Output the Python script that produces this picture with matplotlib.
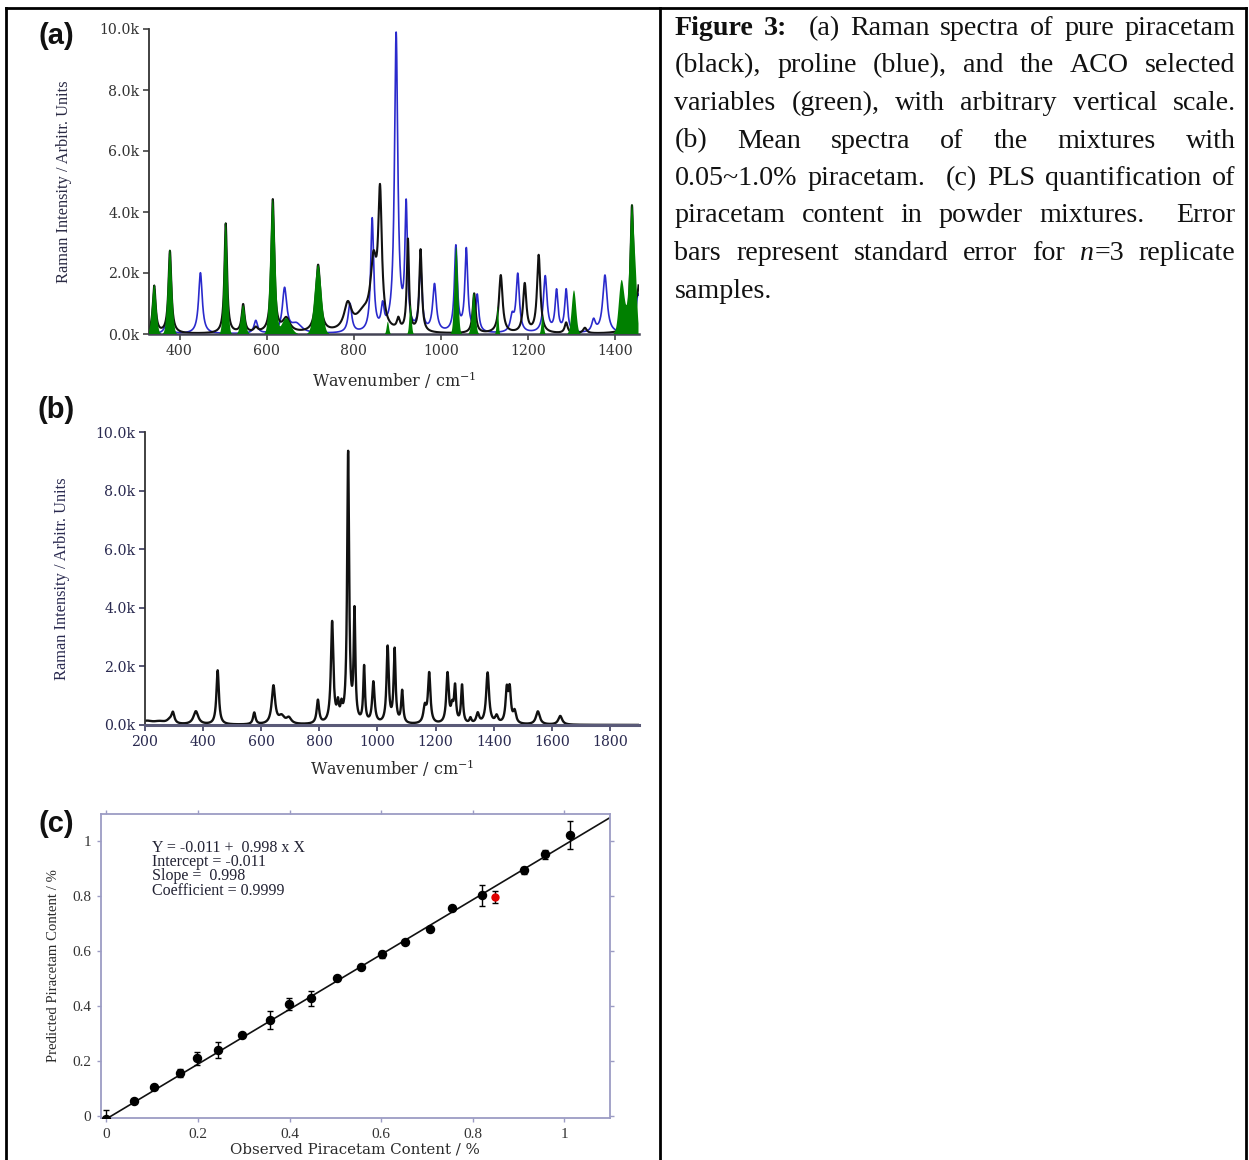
import re
import numpy as np
import matplotlib
matplotlib.use("Agg")
import matplotlib.pyplot as plt
from matplotlib.lines import Line2D
from matplotlib.transforms import IdentityTransform
from matplotlib.ticker import FixedLocator, FuncFormatter

# ---------------- data ----------------
# Panel (a): piracetam (black) peaks: centre / height / half-width
pir_center = [342, 378, 506, 546, 575, 614, 645, 718, 786, 822, 845, 860, 902, 924, 953,
              1076, 1137, 1192, 1224, 1287, 1330, 1438, 1458]
pir_height = [1550, 2700, 3600, 920, 150, 4350, 450, 2200, 850, 550, 2000, 4300, 350, 3000, 2700,
              1300, 1900, 1600, 2550, 350, 180, 4000, 2000]
pir_width = [4, 4, 3.5, 4, 5, 4, 10, 6, 10, 22, 8, 5, 4, 3, 3.5,
             4, 5, 4.5, 4.5, 4, 5, 4, 7]

# Panel (a): proline (blue) peaks
pro_center = [372, 448, 575, 641, 668, 791, 842, 866, 897, 920, 953, 985, 1034, 1058, 1083,
              1163, 1176, 1239, 1265, 1287, 1350, 1376, 1452]
pro_height = [450, 2000, 420, 1450, 300, 950, 3700, 750, 9750, 4000, 2100, 1550, 2800, 2700, 1200,
              500, 1900, 1850, 1350, 1400, 400, 1900, 1300]
pro_width = [6, 5, 5, 6, 15, 5, 4, 4, 4.5, 3.5, 4, 5, 4, 4, 4,
             5, 4.5, 5, 4, 4, 5, 6, 6]

# Panel (a): ACO selected variables (green)
aco_center = [342, 378, 506, 546, 614, 645, 718, 878, 930, 1035, 1075, 1130, 1233, 1305,
              1414, 1426, 1438, 1447]
aco_height = [1620, 2780, 3670, 950, 4420, 520, 2270, 400, 950, 2850, 1350, 900, 600, 1430,
              1700, 500, 4150, 1300]
aco_width = [5, 5, 4.3, 5, 5.8, 10, 8, 2.5, 2.5, 4, 4, 2, 2.5, 5,
             6, 6, 5, 3.5]

# Panel (b): mean spectrum of mixtures
mix_center = [205, 250, 285, 296, 375, 450, 576, 642, 670, 695, 795, 844, 864, 876, 899, 921,
              954, 986, 1035, 1059, 1085, 1163, 1178, 1241, 1257, 1267, 1291, 1320, 1345, 1379,
              1410, 1445, 1455, 1472, 1552, 1629]
mix_height = [120, 90, 120, 350, 450, 1850, 400, 1300, 250, 200, 800, 3450, 550, 450, 9200, 3700,
              1900, 1400, 2600, 2500, 1100, 550, 1700, 1700, 500, 1200, 1300, 180, 350, 1750,
              250, 1100, 1100, 400, 450, 300]
mix_width = [25, 25, 12, 6, 10, 5, 5, 7, 12, 10, 5, 5, 4, 4, 4, 3.5,
             3.5, 5, 4.5, 4, 4, 6, 5, 5, 5, 4, 4, 4, 6, 6,
             6, 5, 5, 6, 8, 8]

# Panel (c): PLS quantification
observed = [0.0, 0.06, 0.104, 0.161, 0.197, 0.243, 0.296, 0.358, 0.398, 0.446, 0.503, 0.557,
            0.601, 0.652, 0.706, 0.754, 0.820, 0.913, 0.957, 1.013]
predicted = [-0.01, 0.055, 0.106, 0.155, 0.21, 0.24, 0.294, 0.349, 0.409, 0.428, 0.501, 0.541,
             0.588, 0.634, 0.681, 0.758, 0.803, 0.895, 0.953, 1.023]
pred_err = [0.03, 0.004, 0.006, 0.015, 0.024, 0.028, 0.005, 0.034, 0.022, 0.027, 0.006, 0.004,
            0.014, 0.005, 0.005, 0.007, 0.04, 0.012, 0.016, 0.05]
outlier_obs = [0.848]
outlier_pred = [0.796]
outlier_err = [0.022]
fit_intercept = -0.011
fit_slope = 0.998
fit_text = ["Y = -0.011 +  0.998 x X", "Intercept = -0.011", "Slope =  0.998",
            "Coefficient = 0.9999"]

caption_lines = [
    "{b}Figure {b}3:  (a) Raman spectra of pure piracetam",
    "(black), proline (blue), and the ACO selected",
    "variables (green), with arbitrary vertical scale.",
    "(b) Mean spectra of the mixtures with",
    "0.05~1.0% piracetam.  (c) PLS quantification of",
    "piracetam content in powder mixtures.  Error",
    "bars represent standard error for {i}n{r}=3 replicate",
    "samples.",
]

# ---------------- helpers ----------------
W, H = 1249, 1160
fig = plt.figure(figsize=(W / 100, H / 100), dpi=100)
SERIF = ["Liberation Serif", "DejaVu Serif"]
WIDE = ["DejaVu Serif"]


def lorentz(x, c, h, w):
    y = np.zeros_like(x)
    for ci, hi, wi in zip(c, h, w):
        y += hi * wi ** 2 / ((x - ci) ** 2 + wi ** 2)
    return y


def gauss(x, c, h, w):
    y = np.zeros_like(x)
    for ci, hi, wi in zip(c, h, w):
        y += hi * np.exp(-0.5 * ((x - ci) / wi) ** 2)
    return y


def add_ax(l, t, r, b):
    return fig.add_axes([l / W, 1 - b / H, (r - l) / W, (b - t) / H])


kfmt = FuncFormatter(lambda v, p: f"{v / 1000:.1f}k")


def style_spectrum_axes(ax, bottom_color, bottom_lw, tick_color, lab_color, ylab_x, xlab_y):
    for s in ["top", "right"]:
        ax.spines[s].set_visible(False)
    ax.spines["left"].set_color("#333333")
    ax.spines["left"].set_linewidth(1.3)
    ax.spines["bottom"].set_color(bottom_color)
    ax.spines["bottom"].set_linewidth(bottom_lw)
    ax.tick_params(axis="both", direction="out", length=4, width=1.1, pad=3,
                   labelsize=10.2, colors=tick_color)
    for lab in ax.get_xticklabels() + ax.get_yticklabels():
        lab.set_family(WIDE)
    ax.set_ylabel("Raman Intensity / Arbitr. Units", family=SERIF, fontsize=11.8, color=lab_color)
    ax.yaxis.set_label_coords(ylab_x, 0.5)
    ax.set_xlabel("Wavenumber / cm$^{\\mathregular{-1}}$", family=WIDE, fontsize=11.5,
                  color="#2a2a2a")
    ax.xaxis.set_label_coords(0.5, xlab_y)
    ax.xaxis.label.set_va("center")
    ax.yaxis.label.set_va("center")


# ---------------- panel (a) ----------------
axa = add_ax(149, 29, 638.5, 334)
xa = np.linspace(330, 1453, 5000)
axa.plot(xa, lorentz(xa, pro_center, pro_height, pro_width), color="#2a2acc", lw=1.2, zorder=2)
axa.plot(xa, lorentz(xa, pir_center, pir_height, pir_width), color="#111111", lw=1.5, zorder=2.5)
g = gauss(xa, aco_center, aco_height, aco_width)
axa.fill_between(xa, 0, g, where=g > 15, color="#008000", lw=0, zorder=3)
axa.set_xlim(330, 1453)
axa.set_ylim(0, 10000)
axa.xaxis.set_major_locator(FixedLocator([400, 600, 800, 1000, 1200, 1400]))
axa.yaxis.set_major_locator(FixedLocator([0, 2000, 4000, 6000, 8000, 10000]))
axa.yaxis.set_major_formatter(kfmt)
style_spectrum_axes(axa, "#444455", 1.8, "#333333", "#2a2a44", -0.174, -0.151)

# ---------------- panel (b) ----------------
axb = add_ax(145, 432, 639, 725)
xb = np.linspace(200, 1900, 6000)
axb.plot(xb, lorentz(xb, mix_center, mix_height, mix_width), color="#111111", lw=1.7)
axb.set_xlim(200, 1900)
axb.set_ylim(0, 10000)
axb.xaxis.set_major_locator(FixedLocator(list(range(200, 1801, 200))))
axb.yaxis.set_major_locator(FixedLocator([0, 2000, 4000, 6000, 8000, 10000]))
axb.yaxis.set_major_formatter(kfmt)
style_spectrum_axes(axb, "#5a5a78", 2.2, "#2a2a50", "#2a2a50", -0.168, -0.147)

# ---------------- panel (c) ----------------
axc = add_ax(101, 814, 610, 1118)
axc.set_xlim(-0.012, 1.1)
axc.set_ylim(-0.008, 1.1)
xl = np.array([0.0, 1.1])
axc.plot(xl, fit_intercept + fit_slope * xl, color="#111111", lw=1.2, zorder=2)
axc.errorbar(observed, predicted, yerr=pred_err, fmt="o", color="black", ms=5.8,
             capsize=2.5, elinewidth=1.0, capthick=1.0, zorder=3)
axc.errorbar(outlier_obs, outlier_pred, yerr=outlier_err, fmt="o", color="black", mfc="#e00000",
             mec="#e00000", ms=5, capsize=2.5, elinewidth=1.0, capthick=1.0, zorder=3)
ticks_c = [0, 0.2, 0.4, 0.6, 0.8, 1.0]
cfmt = FuncFormatter(lambda v, p: "0" if abs(v) < 1e-9 else ("1" if abs(v - 1) < 1e-9 else f"{v:.1f}"))
axc.xaxis.set_major_locator(FixedLocator(ticks_c))
axc.yaxis.set_major_locator(FixedLocator(ticks_c))
axc.xaxis.set_major_formatter(cfmt)
axc.yaxis.set_major_formatter(cfmt)
for s in axc.spines.values():
    s.set_color("#9c9cc4")
    s.set_linewidth(1.3)
axc.tick_params(axis="both", direction="out", length=3, width=1.0, pad=4,
                labelsize=11, colors="#9c9cc4", labelcolor="#333333",
                top=True, right=True)
for lab in axc.get_xticklabels() + axc.get_yticklabels():
    lab.set_family(SERIF)
axc.set_xlabel("Observed Piracetam Content / %", family=WIDE, fontsize=10.8, color="#2a2a2a")
axc.xaxis.set_label_coords(0.499, -0.105)
axc.xaxis.label.set_va("center")
axc.set_ylabel("Predicted Piracetam Content / %", family=SERIF, fontsize=10.6, color="#2a2a2a")
axc.yaxis.set_label_coords(-0.094, 0.503)
axc.yaxis.label.set_va("center")
for i, t in enumerate(fit_text):
    fig.text(152 / W, 1 - (848 + i * 14.2) / H, t, family=SERIF, fontsize=11.5,
             color="#222233", ha="left", va="center")

# ---------------- panel labels ----------------
LBL = ["Liberation Sans Narrow", "Liberation Sans", "DejaVu Sans"]
for txt, (px, py) in zip(["(a)", "(b)", "(c)"], [(56, 36), (56, 410), (56, 824)]):
    fig.text(px / W, 1 - py / H, txt, family=LBL, fontweight="bold", fontsize=21,
             ha="center", va="center", color="#111111")

# ---------------- table borders ----------------
lw_b = 2.0
for (x0, y0, x1, y1) in [(6, 8, 1246, 8), (6, 8, 6, 1160), (660, 8, 660, 1160), (1246, 8, 1246, 1160)]:
    fig.add_artist(Line2D([x0 / W, x1 / W], [1 - y0 / H, 1 - y1 / H], color="black",
                          lw=lw_b, transform=fig.transFigure, solid_capstyle="projecting"))

# ---------------- caption (justified) ----------------
renderer = fig.canvas.get_renderer()
CAP_FS = 20.2
styles = {"r": dict(fontweight="normal", fontstyle="normal"),
          "b": dict(fontweight="bold", fontstyle="normal"),
          "i": dict(fontweight="normal", fontstyle="italic")}


def measure(s, st):
    t = fig.text(0, 0, s, family=SERIF, fontsize=CAP_FS, transform=IdentityTransform(), **styles[st])
    w = t.get_window_extent(renderer).width
    t.remove()
    return w


def parse_word(wd):
    parts = re.split(r"\{([bir])\}", wd)
    segs = []
    if parts[0]:
        segs.append((parts[0], "r"))
    for k in range(1, len(parts), 2):
        if parts[k + 1]:
            segs.append((parts[k + 1], parts[k]))
    return segs


space_w = measure("a a", "r") - measure("aa", "r")
LEFT, RIGHT = 674.5, 1235.5
baseline0, step = 35.0, 37.5
for li, line in enumerate(caption_lines):
    raw = line.split(" ")
    words = []
    spaces_before = []
    pending = 0
    for r_ in raw:
        if r_ == "":
            pending += 1
            continue
        words.append(parse_word(r_))
        spaces_before.append(pending + 1 if len(words) > 1 else 0)
        pending = 0
    widths = [sum(measure(s, st) for s, st in wd) for wd in words]
    nsp = sum(spaces_before)
    last = li == len(caption_lines) - 1
    if last or nsp == 0:
        sp = space_w
    else:
        sp = max((RIGHT - LEFT - sum(widths)) / nsp, space_w * 0.6)
    x = LEFT
    yb = H - (baseline0 + li * step)
    for wd, wdt, nb in zip(words, widths, spaces_before):
        x += nb * sp
        xx = x
        for s, st in wd:
            fig.text(xx, yb, s, family=SERIF, fontsize=CAP_FS, transform=IdentityTransform(),
                     ha="left", va="baseline", color="#111111", **styles[st])
            xx += measure(s, st)
        x += wdt

fig.savefig("out.png", dpi=100)
